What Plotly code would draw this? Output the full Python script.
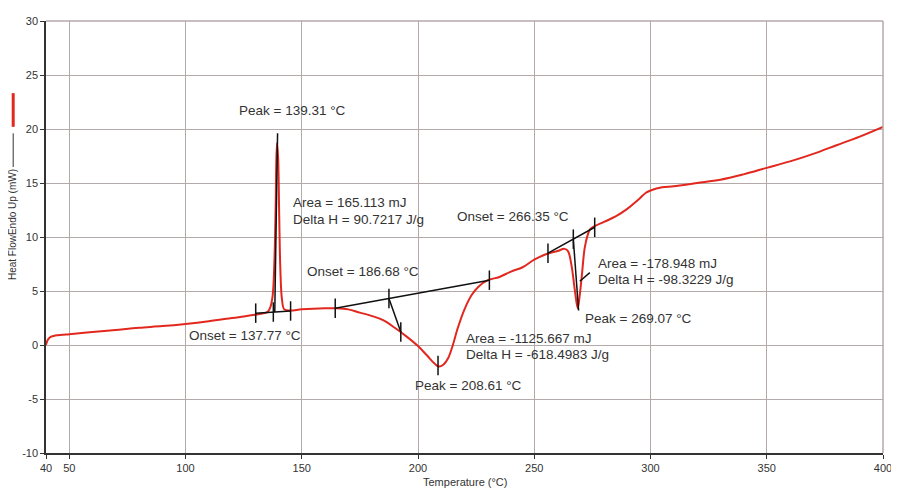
import plotly.graph_objects as go

# ---- DSC curve ----
temperature = [40, 40.5, 41, 42, 44, 47, 50, 60, 70, 80, 90, 100, 110, 120, 130, 134,
               135.5, 136.5, 137.5, 138.2, 138.8, 139.3, 139.8, 140.3, 140.8, 141.5, 142.5,
               145, 150, 160, 165, 170, 175, 180, 185, 190, 195, 200, 204, 207, 209, 211,
               213, 215, 217, 220, 223, 226, 230, 235, 240, 245, 250, 255, 260, 263, 264.5,
               266, 267.5, 268.7, 269.5, 270.5, 271.7, 273, 274, 276, 280, 285, 290, 295,
               298, 300, 305, 310, 320, 330, 340, 350, 360, 370, 380, 390, 400]
heat_flow = [0.0, 0.35, 0.55, 0.75, 0.88, 0.95, 1.0, 1.2, 1.4, 1.6, 1.75, 1.95, 2.2, 2.5, 2.8, 2.95,
             3.1, 3.5, 4.6, 7.5, 13.0, 18.7, 17.5, 12.0, 7.0, 4.2, 3.3,
             3.2, 3.3, 3.4, 3.4, 3.3, 3.0, 2.7, 2.3, 1.6, 0.8, -0.1, -1.0, -1.7, -2.0, -1.8,
             -1.2, 0.0, 1.5, 3.3, 4.6, 5.4, 6.0, 6.3, 6.8, 7.2, 7.9, 8.4, 8.7, 8.9, 8.7,
             7.4, 5.0, 3.4, 4.5, 6.5, 9.0, 10.2, 10.7, 11.0, 11.4, 11.9, 12.6, 13.5,
             14.1, 14.3, 14.6, 14.7, 15.0, 15.3, 15.8, 16.4, 17.0, 17.7, 18.5, 19.3, 20.2]

# ---- peak analyses ----
base1 = [(130.2, 2.95), (145.2, 3.15)]
onset1_T = 137.77
peak1_line = [(138.4, 3.05), (139.6, 19.6)]

base2 = [(164.4, 3.4), (230.7, 6.0)]
onset2_T = 187.5
onset2_perp = [(187.5, 4.3), (192.6, 1.2)]
peak2_T, peak2_val = 208.61, -1.9

base3 = [(255.9, 8.5), (276.0, 10.9)]
onset3_T = 266.8
peak3_line = [(266.8, 9.8), (269.07, 3.2)]
leader3 = [(269.6, 5.9), (273.9, 6.7)]

label_texts = ["Peak = 139.31 °C", "Area = 165.113 mJ", "Delta H = 90.7217 J/g",
               "Onset = 186.68 °C", "Onset = 137.77 °C",
               "Area = -1125.667 mJ", "Delta H = -618.4983 J/g", "Peak = 208.61 °C",
               "Onset = 266.35 °C", "Area = -178.948 mJ", "Delta H = -98.3229 J/g",
               "Peak = 269.07 °C"]
label_T = [122.5, 145.6, 145.6, 152.0, 101.1, 220.0, 220.0, 198.2, 216.2, 276.9, 276.9, 271.3]
label_v = [21.7, 13.15, 11.6, 6.85, 0.91, 0.64, -0.91, -3.74, 11.87, 7.58, 6.03, 2.47]

x_ticks = [40, 50, 100, 150, 200, 250, 300, 350, 400]
y_ticks = [-10, -5, 0, 5, 10, 15, 20, 25, 30]


def interp(seg, t):
    (x0, y0), (x1, y1) = seg
    return y0 + (t - x0) * (y1 - y0) / (x1 - x0)


TICK_H = 0.9
lx, ly = [], []


def add_seg(p0, p1):
    lx.extend([p0[0], p1[0], None])
    ly.extend([p0[1], p1[1], None])


def add_tick(t, v):
    add_seg((t, v - TICK_H), (t, v + TICK_H))


# peak 1
add_seg(*base1)
for t in (base1[0][0], onset1_T, base1[1][0]):
    add_tick(t, interp(base1, t))
add_seg(*peak1_line)
# peak 2
add_seg(*base2)
for t in (base2[0][0], onset2_T, base2[1][0]):
    add_tick(t, interp(base2, t))
add_seg(*onset2_perp)
add_tick(*onset2_perp[1])
add_tick(peak2_T, peak2_val)
# peak 3
add_seg(*base3)
for t in (base3[0][0], onset3_T, base3[1][0]):
    add_tick(t, interp(base3, t))
add_seg(*peak3_line)
add_seg(*leader3)

fig = go.Figure()
fig.add_trace(go.Scatter(x=temperature, y=heat_flow, mode="lines",
                         line=dict(color="#e2281e", width=2), line_shape="spline",
                         hoverinfo="skip"))
fig.add_trace(go.Scatter(x=lx, y=ly, mode="lines",
                         line=dict(color="#111111", width=1.5), hoverinfo="skip"))

font_txt = dict(family="Liberation Sans, Arial, sans-serif", size=13.5, color="#333333")
annotations = []
for txt, t, v in zip(label_texts, label_T, label_v):
    annotations.append(dict(x=t, y=v, xref="x", yref="y", text=txt, showarrow=False,
                            xanchor="left", yanchor="middle", font=font_txt, borderpad=0))

# axis titles
annotations.append(dict(x=-0.0392, y=0.528, xref="paper", yref="paper",
                        text="Heat FlowEndo Up (mW)", textangle=-90, showarrow=False,
                        xanchor="center", yanchor="middle",
                        font=dict(family="Liberation Sans, Arial, sans-serif", size=10,
                                  color="#333333")))
annotations.append(dict(x=0.50, y=-0.068, xref="paper", yref="paper",
                        text="Temperature (°C)", showarrow=False,
                        xanchor="center", yanchor="middle",
                        font=dict(family="Liberation Sans Narrow, Arial Narrow, Liberation Sans, sans-serif",
                                  size=11, color="#333333")))

shapes = [
    dict(type="line", xref="paper", yref="paper", x0=-0.0392, x1=-0.0392,
         y0=0.755, y1=0.833, line=dict(color="#e2281e", width=3)),
    dict(type="line", xref="paper", yref="paper", x0=-0.0392, x1=-0.0392,
         y0=0.662, y1=0.740, line=dict(color="#333333", width=1)),
    # right border and top as grid-coloured lines
    dict(type="line", xref="paper", yref="paper", x0=1, x1=1, y0=0, y1=1,
         line=dict(color="#b4aaaa", width=1.5)),
    dict(type="line", xref="paper", yref="paper", x0=0, x1=1, y0=1, y1=1,
         line=dict(color="#b4aaaa", width=1.5)),
]

# page body has an 8px margin: figure is shrunk so the plot area lands where the reference has it
fig.update_layout(
    width=891, height=481,
    margin=dict(l=38, r=11, t=7, b=36),
    paper_bgcolor="white", plot_bgcolor="white",
    showlegend=False,
    annotations=annotations,
    shapes=shapes,
    xaxis=dict(range=[40, 400], tickvals=x_ticks, ticktext=[str(v) for v in x_ticks],
               showgrid=True, gridcolor="#b4aaaa", gridwidth=1,
               showline=True, linecolor="#333333", linewidth=2, mirror=False,
               ticks="outside", ticklen=4, tickcolor="#333333",
               tickfont=dict(family="Liberation Sans Narrow, Arial Narrow, Liberation Sans, sans-serif",
                             size=11, color="#333333"),
               zeroline=False),
    yaxis=dict(range=[-10, 30], tickvals=y_ticks, ticktext=[str(v) for v in y_ticks],
               showgrid=True, gridcolor="#b4aaaa", gridwidth=1,
               showline=True, linecolor="#333333", linewidth=1.5,
               ticks="outside", ticklen=4, tickcolor="#333333",
               tickfont=dict(family="Liberation Sans, Arial, sans-serif", size=11,
                             color="#333333"),
               zeroline=False),
)

fig.write_html("out.html")
